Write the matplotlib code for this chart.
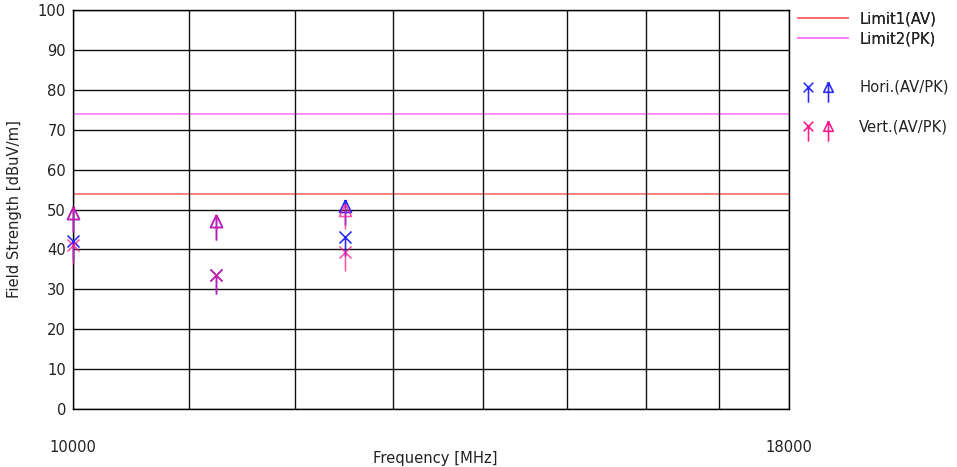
import matplotlib
matplotlib.use("Agg")
import matplotlib.pyplot as plt
from matplotlib.path import Path
from matplotlib.lines import Line2D
from matplotlib.legend_handler import HandlerTuple
from matplotlib.ticker import NullFormatter

# Measured emissions (dBuV/m)
freq_mhz = [10000, 11250, 12500]
hori_av = [42.0, 33.6, 43.2]
hori_pk = [49.0, 47.0, 50.9]
vert_av = [41.0, 33.6, 39.4]
vert_pk = [49.0, 47.0, 49.9]

limit_av = 54
limit_pk = 74

x_range = [10000, 18000]
x_minor = [11000, 12000, 13000, 14000, 15000, 16000, 17000]
y_ticks = list(range(0, 101, 10))

HORI_COLOR = "#2828ff"
VERT_COLOR = "#ff1a8c"
LIM1_COLOR = "#ff6a6a"
LIM2_COLOR = "#ff78ff"
TEXT_COLOR = "#222222"
FS = 10.6

# Symbols: cross with a tail (average) and open arrow head with a tail (peak)
av_marker = Path(
    [(-6, -6), (6, 6), (-6, 6), (6, -6), (0, 0), (0, -19)],
    [Path.MOVETO, Path.LINETO, Path.MOVETO, Path.LINETO, Path.MOVETO, Path.LINETO],
)
pk_marker = Path(
    [(0, 6.5), (-6, -6), (6, -6), (0, 6.5), (0, 6.5), (0, -19)],
    [Path.MOVETO, Path.LINETO, Path.LINETO, Path.LINETO, Path.MOVETO, Path.LINETO],
)
MS = 2 * 19 * 72 / 100

fig = plt.figure(figsize=(9.57, 4.67), dpi=100)
ax = fig.add_axes([73 / 957, 1 - 409 / 467, 716 / 957, 399 / 467])

ax.set_xscale("log")
ax.set_xlim(*x_range)
ax.set_ylim(0, 100)

ax.axhline(limit_av, color=LIM1_COLOR, lw=1.2, zorder=1.2)
ax.axhline(limit_pk, color=LIM2_COLOR, lw=1.2, zorder=1.2)

style = dict(ls="none", mfc="none", ms=MS, mew=1.15, clip_on=False, zorder=3)
ax.plot(freq_mhz, hori_av, marker=av_marker, mec=HORI_COLOR, **style)
ax.plot(freq_mhz, hori_pk, marker=pk_marker, mec=HORI_COLOR, **style)
ax.plot(freq_mhz, vert_av, marker=av_marker, mec=VERT_COLOR, alpha=0.75, **style)
ax.plot(freq_mhz, vert_pk, marker=pk_marker, mec=VERT_COLOR, alpha=0.75, **style)

ax.set_xticks(x_range)
ax.set_xticklabels([str(v) for v in x_range])
ax.set_xticks(x_minor, minor=True)
ax.xaxis.set_minor_formatter(NullFormatter())
ax.set_yticks(y_ticks)
ax.tick_params(axis="both", which="both", length=0, labelsize=FS, labelcolor=TEXT_COLOR)
ax.tick_params(axis="x", pad=22)
ax.tick_params(axis="y", pad=5)

ax.grid(True, which="both", axis="x", color="#111111", lw=1.0)
ax.grid(True, which="major", axis="y", color="#111111", lw=1.0)
for sp in ax.spines.values():
    sp.set_color("black")
    sp.set_linewidth(1.0)

fig.text(435 / 957, 1 - 458 / 467, "Frequency [MHz]", ha="center", va="center",
         fontsize=FS, color=TEXT_COLOR)
fig.text(15 / 957, 1 - 209 / 467, "Field Strength [dBuV/m]", ha="center", va="center",
         rotation=90, fontsize=FS, color=TEXT_COLOR)

# Legends
lim_handles = [Line2D([], [], color=LIM1_COLOR, lw=1.2),
               Line2D([], [], color=LIM2_COLOR, lw=1.2)]
leg1 = fig.legend(lim_handles, ["Limit1(AV)", "Limit2(PK)"], loc="upper left",
                  bbox_to_anchor=(798 / 957, 1 - 11 / 467), frameon=False,
                  borderpad=0, borderaxespad=0, handlelength=3.4,
                  handletextpad=0.75, labelspacing=0.38, fontsize=FS)
for t in leg1.get_texts():
    t.set_color(TEXT_COLOR)

mk = dict(ls="none", mfc="none", ms=MS * 0.8, mew=1.15)
h_av = Line2D([], [], marker=av_marker, mec=HORI_COLOR, **mk)
h_pk = Line2D([], [], marker=pk_marker, mec=HORI_COLOR, **mk)
v_av = Line2D([], [], marker=av_marker, mec=VERT_COLOR, **mk)
v_pk = Line2D([], [], marker=pk_marker, mec=VERT_COLOR, **mk)
leg2 = fig.legend([(h_av, h_pk), (v_av, v_pk)], ["Hori.(AV/PK)", "Vert.(AV/PK)"],
                  handler_map={tuple: HandlerTuple(ndivide=2, pad=0)},
                  loc="upper left", bbox_to_anchor=(798 / 957, 1 - 80 / 467),
                  frameon=False, borderpad=0, borderaxespad=0, handlelength=2.75,
                  handletextpad=1.4, labelspacing=1.65, fontsize=FS)
for t in leg2.get_texts():
    t.set_color(TEXT_COLOR)
fig.add_artist(leg1)

fig.savefig("out.png", dpi=100)
